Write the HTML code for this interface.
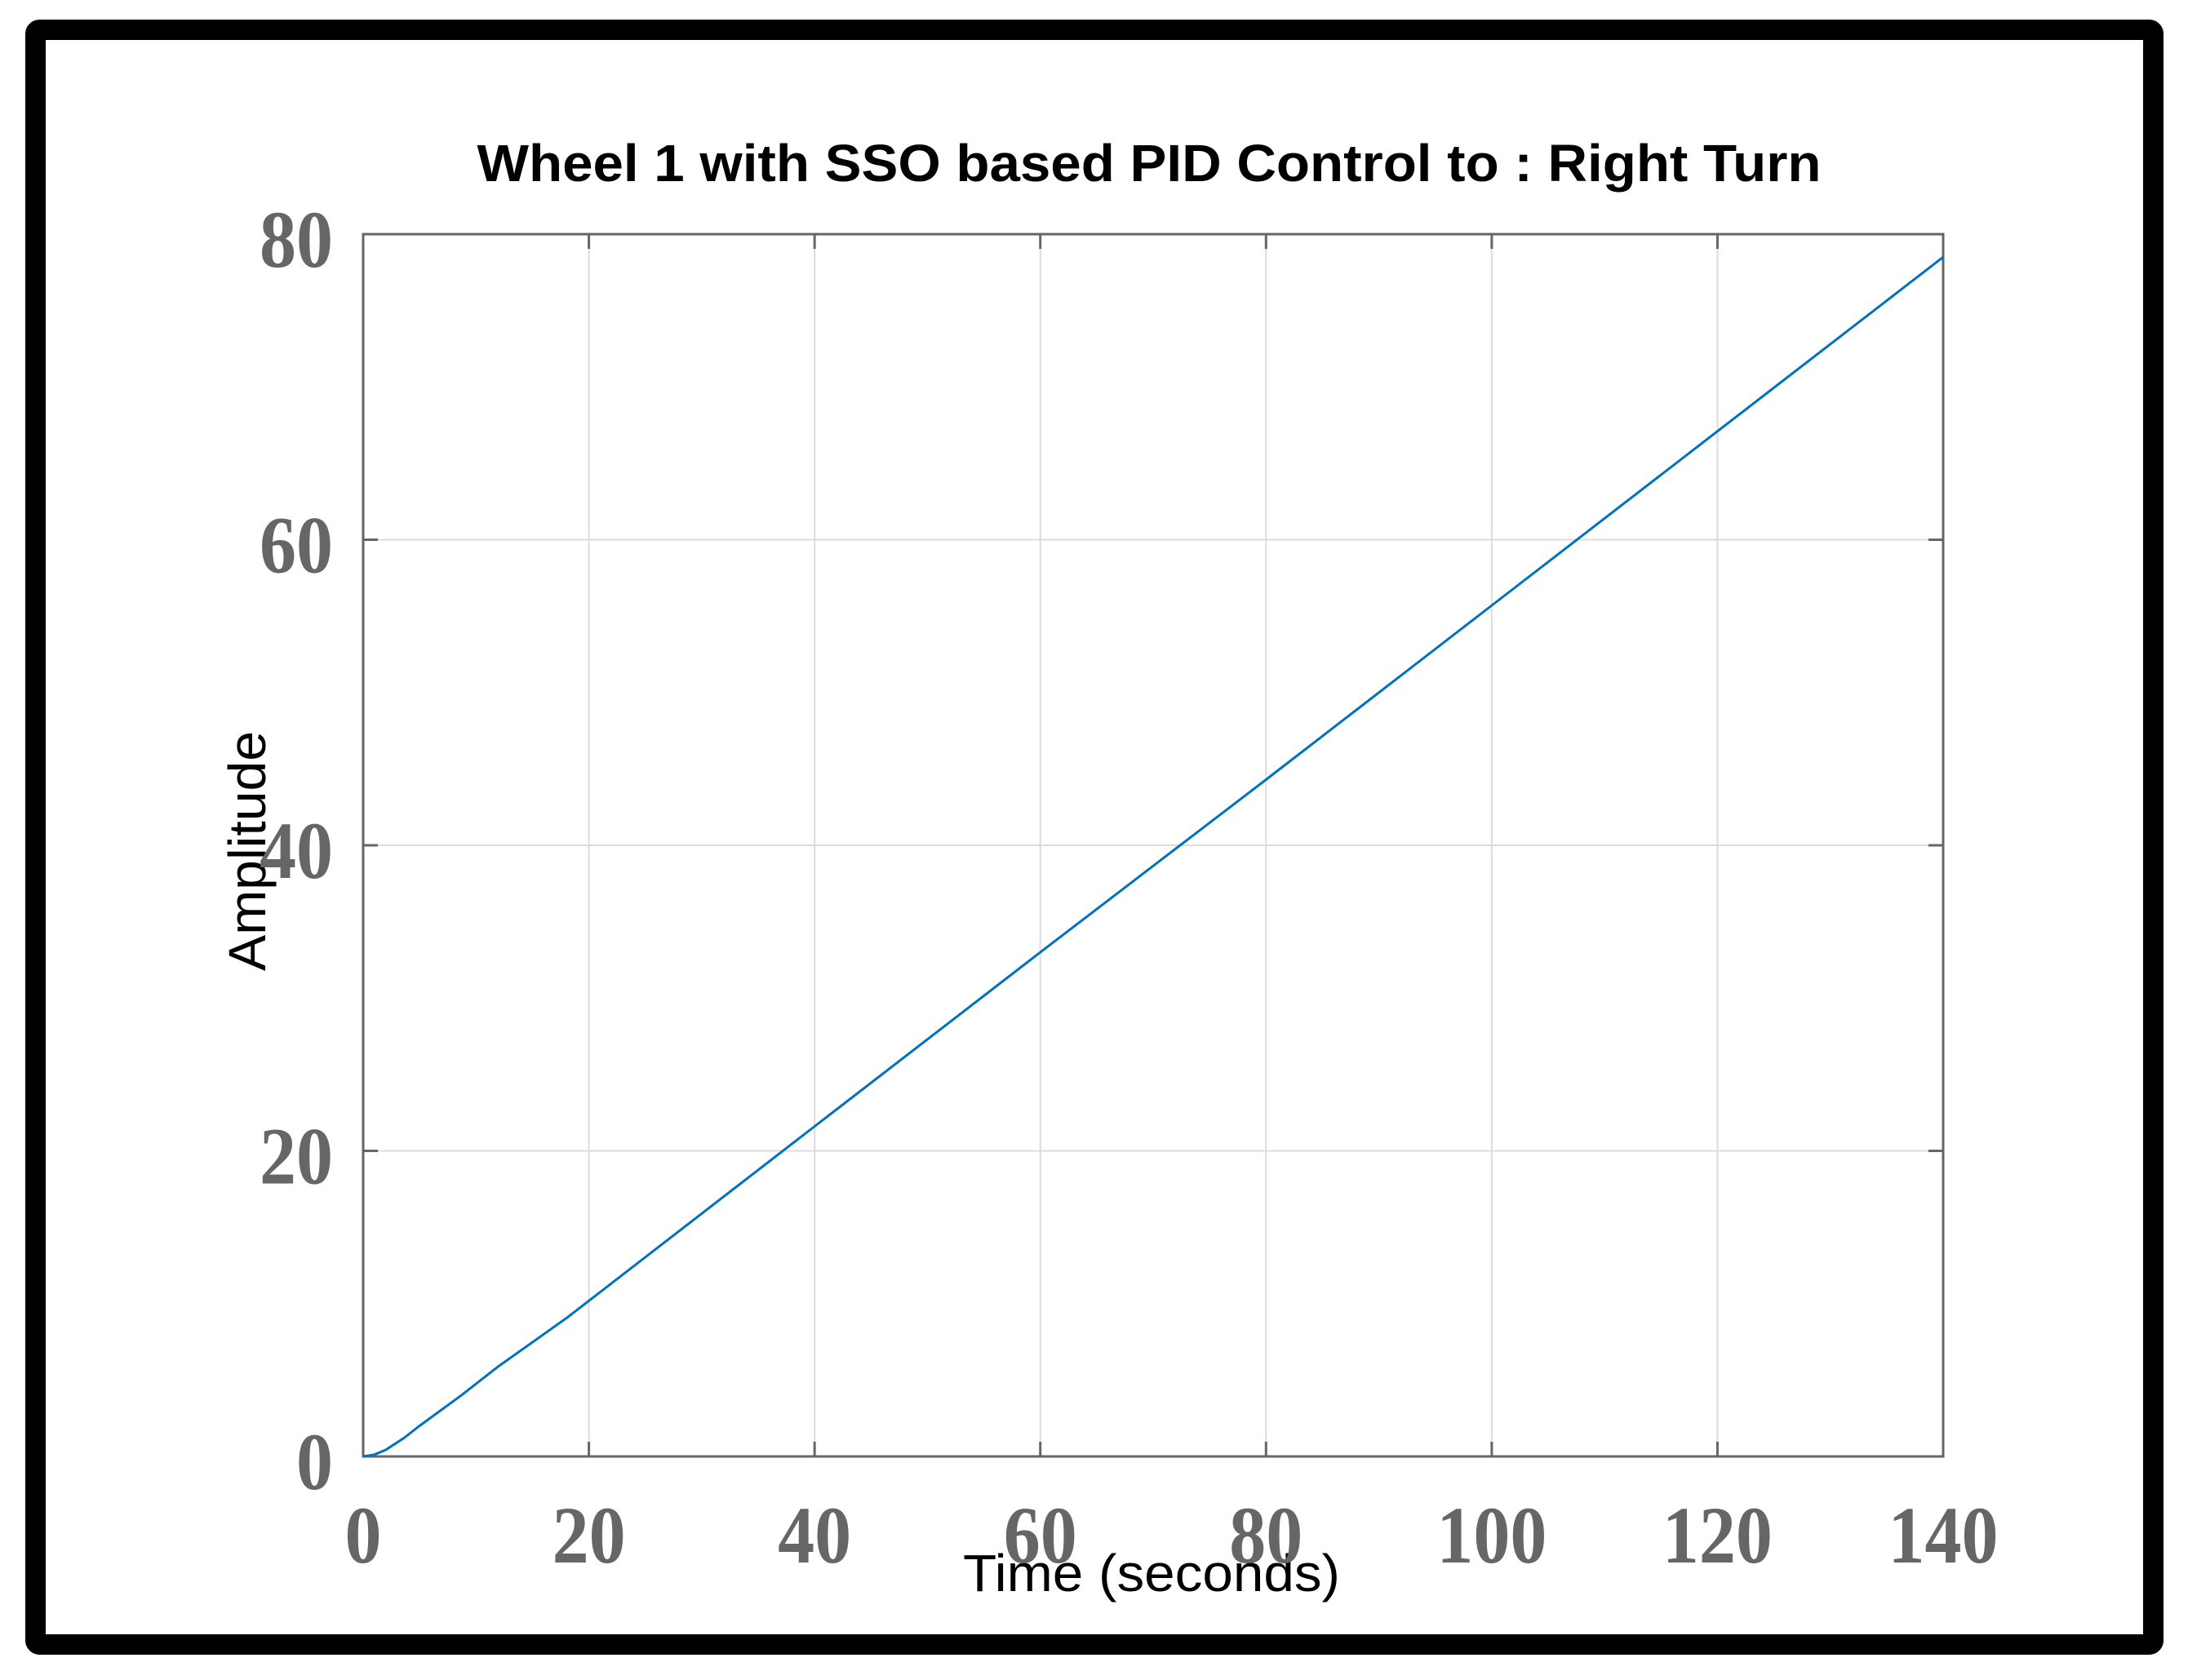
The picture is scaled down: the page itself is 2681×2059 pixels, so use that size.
<!DOCTYPE html>
<html><head><meta charset="utf-8"><style>
html,body{margin:0;padding:0;background:#fff;}
svg{display:block;}
</style></head><body>
<svg width="2681" height="2059" viewBox="0 0 2681 2059" xmlns="http://www.w3.org/2000/svg">
<rect x="43.5" y="36.5" width="2595" height="1979" rx="5" fill="none" stroke="#000" stroke-width="25"/>
<g id="grid"></g>
<rect x="445" y="287" width="1936" height="1498" fill="none" stroke="#666" stroke-width="3"/>
<g id="ticks"></g>
<path id="series" fill="none" stroke="#0072BD" stroke-width="3"/>
<text x="1408" y="222" text-anchor="middle" font-family="Liberation Sans, sans-serif" font-weight="bold" font-size="64" textLength="1647" lengthAdjust="spacingAndGlyphs" fill="#000">Wheel 1 with SSO based PID Control to : Right Turn</text>
<text x="1411" y="1950" text-anchor="middle" font-family="Liberation Sans, sans-serif" font-size="64" textLength="462" lengthAdjust="spacingAndGlyphs" fill="#000">Time (seconds)</text>
<text x="0" y="0" transform="translate(325,1043) rotate(-90)" text-anchor="middle" font-family="Liberation Sans, sans-serif" font-size="64" textLength="294" lengthAdjust="spacingAndGlyphs" fill="#000">Amplitude</text>
<g id="labels"></g>
</svg>
<script>
const xTicks=[0,20,40,60,80,100,120,140];
const yTicks=[0,20,40,60,80];
const times=[0,1,2,3.6,5,8.7,12,18.1,30,40,60,80,100,120,140];
const amps=[0,0.12,0.43,1.2,2.0,4.0,5.9,9.1,15.9,21.6,33.0,44.3,55.7,67.1,78.5];
const X0=445,X1=2381,Y0=1785,Y1=287;
const sx=v=>X0+(v-0)/(140-0)*(X1-X0);
const sy=v=>Y0-(v-0)/(80-0)*(Y0-Y1);
const NS='http://www.w3.org/2000/svg';
const grid=document.getElementById('grid'),ticks=document.getElementById('ticks'),labels=document.getElementById('labels');
function ln(p,x1,y1,x2,y2,c,w){const l=document.createElementNS(NS,'line');l.setAttribute('x1',x1);l.setAttribute('y1',y1);l.setAttribute('x2',x2);l.setAttribute('y2',y2);l.setAttribute('stroke',c);l.setAttribute('stroke-width',w);p.appendChild(l);return l;}
function tx(x,y,s,anchor){const t=document.createElementNS(NS,'text');t.setAttribute('x',x);t.setAttribute('y',y);t.setAttribute('text-anchor',anchor);t.setAttribute('font-family','Liberation Serif, serif');t.setAttribute('font-weight','bold');t.setAttribute('font-size','100');t.setAttribute('fill','#666');t.setAttribute('textLength',String(s.length*45));t.setAttribute('lengthAdjust','spacingAndGlyphs');t.textContent=s;labels.appendChild(t);return t;}
xTicks.forEach(v=>{const x=sx(v);
 const g=ln(grid,x,Y1,x,Y0,'#dcdcdc',2);
 
 
 ln(ticks,x,Y0,x,Y0-18,'#666',3);ln(ticks,x,Y1,x,Y1+18,'#666',3);
 const t=tx(x,1915,String(v),'middle');
 
 
});
yTicks.forEach(v=>{const y=sy(v);
 const g=ln(grid,X0,y,X1,y,'#dcdcdc',2);
 
 
 ln(ticks,X0,y,X0+18,y,'#666',3);ln(ticks,X1,y,X1-18,y,'#666',3);
 const t=tx(408,y+40,String(v),'end');
 
 
});
document.getElementById('series').setAttribute('d',times.map((t,i)=>(i?'L':'M')+sx(t).toFixed(1)+','+sy(amps[i]).toFixed(1)).join(' '));
</script>
</body></html>
